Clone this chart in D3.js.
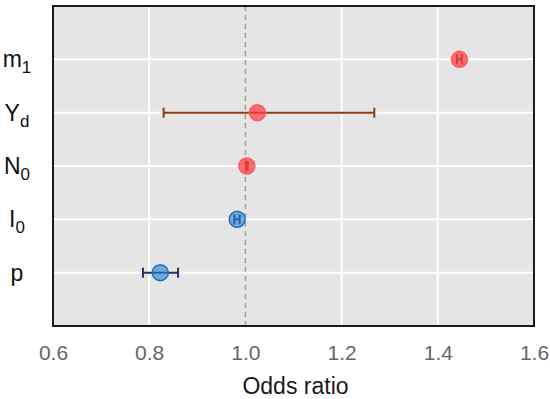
<!DOCTYPE html>
<html>
<head>
<meta charset="utf-8">
<script src="https://cdn.jsdelivr.net/npm/d3@7"></script>
<style>
  body { margin: 0; background: #fff; }
  svg { display: block; font-family: "Liberation Sans", Arial, sans-serif; }
</style>
</head>
<body>
<svg id="chart" width="550" height="399"></svg>
<script>
// parameters, top to bottom
const params = [
  { base: "m", sub: "1" },
  { base: "Y", sub: "d" },
  { base: "N", sub: "0" },
  { base: "I", sub: "0" },
  { base: "p", sub: "" }
];
const oddsRatio = [1.445, 1.025, 1.003, 0.983, 0.823];
const ciLow     = [1.440, 0.830, 1.001, 0.977, 0.787];
const ciHigh    = [1.450, 1.268, 1.005, 0.988, 0.860];
const effect    = ["up", "up", "up", "down", "down"];
const xTicks    = [0.6, 0.8, 1.0, 1.2, 1.4, 1.6];

const svg = d3.select("#chart");
const plotL = 53, plotR = 534, plotT = 6, plotB = 326;

const x = d3.scaleLinear().domain([0.6, 1.6]).range([plotL, plotR]);
const y = d3.scaleLinear().domain([0, params.length + 1]).range([plotT, plotB]);

const colors = {
  up:   { fill: "rgba(255,60,66,0.72)", stroke: "#ff5c62", bar: "#8c3b16" },
  down: { fill: "rgba(40,130,210,0.62)", stroke: "#1c6fc0", bar: "#1b3566" }
};

// panel background
svg.append("rect")
  .attr("x", plotL).attr("y", plotT)
  .attr("width", plotR - plotL).attr("height", plotB - plotT)
  .attr("fill", "#e5e5e5");

// grid
svg.append("g").selectAll("line")
  .data(xTicks.filter(t => t > 0.6 && t < 1.6 && t !== 1.0))
  .join("line")
  .attr("x1", d => x(d)).attr("x2", d => x(d))
  .attr("y1", plotT).attr("y2", plotB)
  .attr("stroke", "#fff").attr("stroke-width", 2);

svg.append("g").selectAll("line")
  .data(params)
  .join("line")
  .attr("x1", plotL).attr("x2", plotR)
  .attr("y1", (d, i) => y(i + 1)).attr("y2", (d, i) => y(i + 1))
  .attr("stroke", "#fff").attr("stroke-width", 2);

// reference line at 1
svg.append("line")
  .attr("x1", x(1)).attr("x2", x(1))
  .attr("y1", plotT).attr("y2", plotB)
  .attr("stroke", "#a0a0a0").attr("stroke-width", 1.5)
  .attr("stroke-dasharray", "5 4");

// error bars
const eb = svg.append("g").selectAll("g")
  .data(oddsRatio)
  .join("g")
  .attr("stroke", (d, i) => colors[effect[i]].bar)
  .attr("stroke-width", 2);

eb.append("line")
  .attr("x1", (d, i) => x(ciLow[i])).attr("x2", (d, i) => x(ciHigh[i]))
  .attr("y1", (d, i) => y(i + 1)).attr("y2", (d, i) => y(i + 1));
eb.append("line")
  .attr("x1", (d, i) => x(ciLow[i])).attr("x2", (d, i) => x(ciLow[i]))
  .attr("y1", (d, i) => y(i + 1) - 5).attr("y2", (d, i) => y(i + 1) + 5);
eb.append("line")
  .attr("x1", (d, i) => x(ciHigh[i])).attr("x2", (d, i) => x(ciHigh[i]))
  .attr("y1", (d, i) => y(i + 1) - 5).attr("y2", (d, i) => y(i + 1) + 5);

// points
svg.append("g").selectAll("circle")
  .data(oddsRatio)
  .join("circle")
  .attr("cx", d => x(d))
  .attr("cy", (d, i) => y(i + 1))
  .attr("r", 8)
  .attr("fill", (d, i) => colors[effect[i]].fill)
  .attr("stroke", (d, i) => colors[effect[i]].stroke)
  .attr("stroke-width", 1.5);

// frame
svg.append("rect")
  .attr("x", plotL).attr("y", plotT)
  .attr("width", plotR - plotL).attr("height", plotB - plotT)
  .attr("fill", "none").attr("stroke", "#1a1a1a").attr("stroke-width", 2);

// x axis labels
const xAxis = svg.append("g")
  .attr("transform", `translate(0,${plotB})`)
  .call(d3.axisBottom(x).tickValues(xTicks).tickFormat(d3.format(".1f")).tickSize(0).tickPadding(19));
xAxis.select(".domain").remove();
xAxis.selectAll("text")
  .attr("font-size", 21)
  .attr("font-family", "Liberation Sans, Arial, sans-serif")
  .attr("fill", "#666");

svg.append("text")
  .attr("x", (plotL + plotR) / 2 + 2)
  .attr("y", 394)
  .attr("text-anchor", "middle")
  .attr("font-size", 23)
  .attr("fill", "#1a1a1a")
  .text("Odds ratio");

// y labels with subscripts
const yl = svg.append("g").selectAll("text")
  .data(params)
  .join("text")
  .attr("x", 17)
  .attr("y", (d, i) => y(i + 1) + 8)
  .attr("text-anchor", "middle")
  .attr("font-size", 23)
  .attr("fill", "#111");
yl.append("tspan").text(d => d.base);
yl.append("tspan")
  .attr("font-size", 17)
  .attr("dy", 6)
  .text(d => d.sub);
</script>
</body>
</html>
